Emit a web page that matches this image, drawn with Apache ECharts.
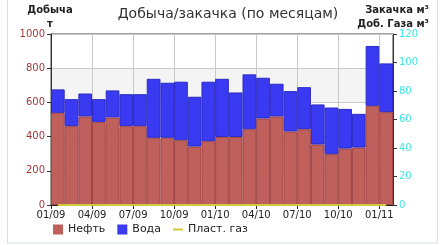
<!DOCTYPE html>
<html><head><meta charset="utf-8">
<script src="https://cdn.jsdelivr.net/npm/echarts@6/dist/echarts.min.js"></script>
<style>html,body{margin:0;padding:0;background:#fff}#c{width:441px;height:245px}</style>
</head><body><div id="c"></div>
<script>
const months = ['01/09','02/09','03/09','04/09','05/09','06/09','07/09','08/09','09/09','10/09','11/09','12/09',
  '01/10','02/10','03/10','04/10','05/10','06/10','07/10','08/10','09/10','10/10','11/10','12/10','01/11'];
const tickLabels = ['01/09','04/09','07/09','10/09','01/10','04/10','07/10','10/10','01/11'];
const oil = [539,461,518,486,512,461,461,393,393,379,342,373,398,398,443,506,518,430,443,354,297,330,336,580,543];
const total = [676,619,652,619,670,648,648,738,715,721,633,721,738,658,764,744,709,666,689,588,570,562,533,930,828];
const water = total.map((t,i)=>t-oil[i]);
const gas = months.map(()=>0);

const chart = echarts.init(document.getElementById('c'));
const F = 'DejaVu Sans';
chart.setOption({
  animation:false,
  textStyle:{fontFamily:F},
  title:{text:'Добыча/закачка (по месяцам)',left:223,textAlign:'center',top:2,
    textStyle:{fontFamily:F,fontSize:14,fontWeight:'normal',color:'#333'}},
  graphic:[
    {type:'rect',shape:{x:7.5,y:-5,width:430,height:248},style:{fill:'none',stroke:'#d5e0ea',lineWidth:1},silent:true},
    {type:'text',x:50,y:3,style:{text:'Добыча\nт',fontFamily:F,fontSize:10,fontWeight:'bold',fill:'#222',align:'center',lineHeight:14}},
    {type:'text',x:429,y:3,style:{text:'Закачка м³\nДоб. Газа м³',fontFamily:F,fontSize:10,fontWeight:'bold',fill:'#222',align:'right',lineHeight:14}}
  ],
  legend:{left:48,top:219,itemWidth:10,itemHeight:10,itemGap:12,
    itemStyle:{borderWidth:0},
    textStyle:{fontFamily:F,fontSize:11,color:'#222'},
    data:[{name:'Нефть',icon:'rect'},{name:'Вода',icon:'rect'},
      {name:'Пласт. газ',icon:'path://M0,0L10,0L10,2L0,2Z'}]},
  grid:{left:51,right:48,top:34,bottom:40,show:true,borderColor:'#444',borderWidth:1,backgroundColor:'transparent'},
  xAxis:[
    {type:'category',data:months,show:false,boundaryGap:true},
    {type:'value',min:0,max:months.length,interval:3,position:'bottom',
      axisLine:{show:true,lineStyle:{color:'#222'}},
      axisTick:{show:true,length:4,lineStyle:{color:'#222'}},
      axisLabel:{fontFamily:F,fontSize:10,color:'#222',margin:5,showMaxLabel:false,
        formatter:(v)=> (v%3===0 && tickLabels[v/3]!==undefined) ? tickLabels[v/3] : ''},
      splitLine:{show:true,lineStyle:{color:'#c8c8c8'}}}
  ],
  yAxis:[
    {type:'value',min:0,max:1000,interval:200,
      axisLine:{show:true,lineStyle:{color:'#333'}},
      axisTick:{show:true,length:4,lineStyle:{color:'#333'}},
      axisLabel:{fontFamily:F,fontSize:10,color:'#a03a3a',margin:6,formatter:(v)=>String(v)},
      splitLine:{show:true,lineStyle:{color:'#c8c8c8'}},
      splitArea:{show:true,areaStyle:{color:['rgba(255,255,255,0)','#f4f4f4']}}},
    {type:'value',min:0,max:120,interval:20,position:'right',
      axisLine:{show:true,lineStyle:{color:'#333'}},
      axisTick:{show:true,length:4,lineStyle:{color:'#333'}},
      axisLabel:{fontFamily:F,fontSize:10,color:'#3ee6e6',margin:6,formatter:(v)=>String(v)},
      splitLine:{show:false}}
  ],
  series:[
    {name:'Нефть',type:'bar',stack:'s',xAxisIndex:0,yAxisIndex:0,data:oil,barCategoryGap:'0%',
      itemStyle:{color:'#c0605c',borderColor:'#a34444',borderWidth:1}},
    {name:'Вода',type:'bar',stack:'s',xAxisIndex:0,yAxisIndex:0,data:water,barCategoryGap:'0%',
      itemStyle:{color:'#3a3af2',borderColor:'#2a2ac4',borderWidth:1}},
    {name:'Пласт. газ',type:'line',xAxisIndex:0,yAxisIndex:1,data:gas,symbol:'none',
      lineStyle:{color:'#d2c83c',width:2},itemStyle:{color:'#d2c83c'}}
  ]
});
</script></body></html>
